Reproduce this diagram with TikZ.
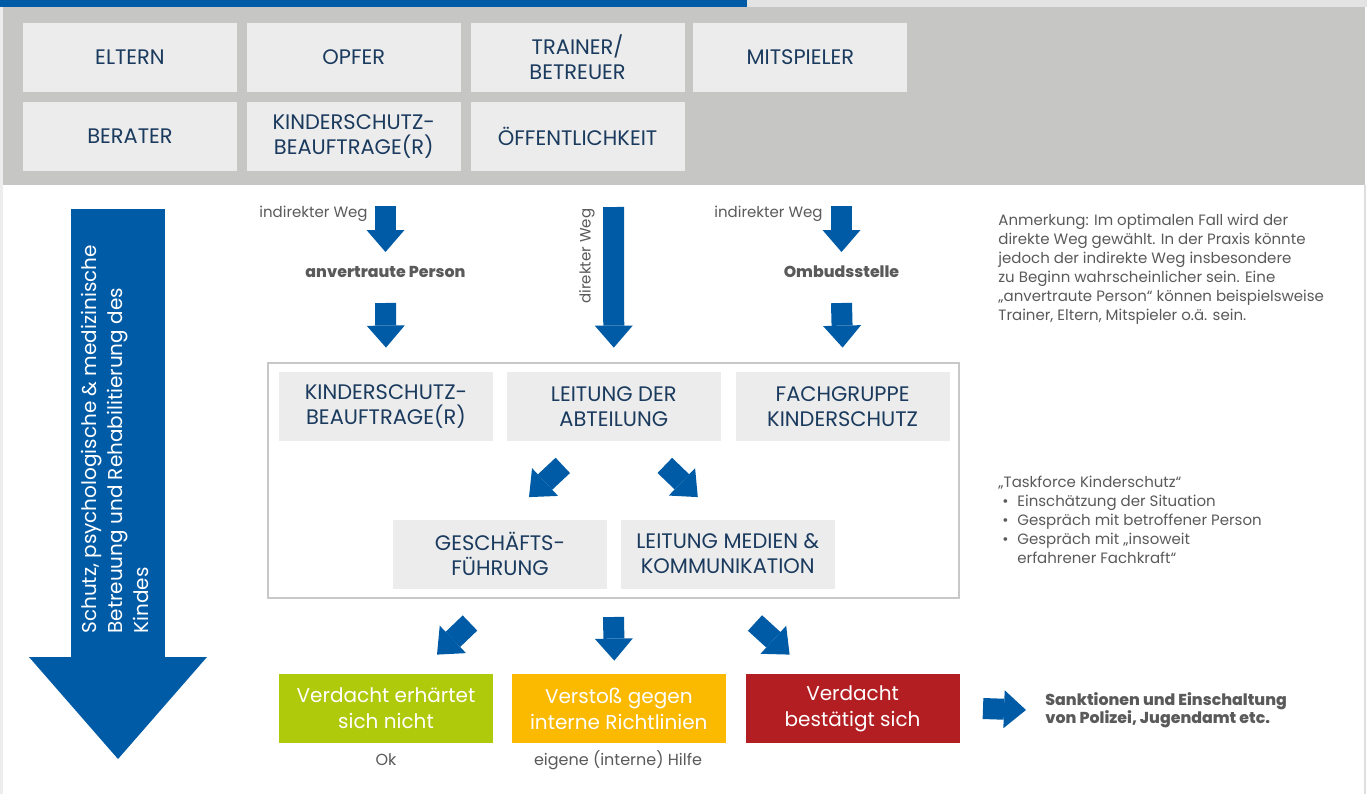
\documentclass[tikz,border=0pt]{standalone}
\usepackage{fontspec}
\setmainfont{Poppins}
\newfontface\schwer{Poppins ExtraBold}
\usetikzlibrary{arrows.meta,positioning,calc}

\definecolor{akblau}{RGB}{0,91,166}
\definecolor{navy}{RGB}{26,58,94}
\definecolor{boxgrau}{RGB}{236,236,236}
\definecolor{bandgrau}{RGB}{198,198,197}
\definecolor{rahmengrau}{RGB}{200,200,200}
\definecolor{textgrau}{RGB}{90,90,90}
\definecolor{gruen}{RGB}{175,202,11}
\definecolor{gelborange}{RGB}{251,185,0}
\definecolor{rot}{RGB}{179,30,34}

\tikzset{
  akteur/.style={fill=boxgrau, text=navy, minimum width=107pt, minimum height=34.5pt,
    align=center, inner sep=0pt, font=\fontsize{10.5}{12.5}\selectfont},
  ergebnis/.style={minimum width=107pt, minimum height=34.5pt, align=center,
    inner sep=0pt, text=white, font=\fontsize{10}{13}\selectfont},
  hinweis/.style={text=textgrau, inner sep=0pt, font=\fontsize{7.5}{9.5}\selectfont},
  fett/.style={hinweis, font=\fontsize{7.9}{9}\schwer},
  blockpfeil/.style={draw=akblau, line width=10.5pt,
    -{Triangle[length=11pt,width=19pt,line width=0pt]}},
}

\begin{document}
\begin{tikzpicture}[x=0.5pt, y=-0.5pt]
\useasboundingbox (0,0) rectangle (1367,794);
% hintergrund
\fill[white] (0,0) rectangle (1367,794);
\fill[akblau] (0,0) rectangle (747,7);
\fill[black!11] (747,0) rectangle (1367,7);
\fill[black!7] (0,7) rectangle (3,794);
\fill[bandgrau] (3,7) rectangle (1365,185);
\fill[black!13] (1364,185) rectangle (1366,794);

% beteiligte
\node[akteur] (eltern) at (130,57.5) {ELTERN};
\node[akteur, right=4.5pt of eltern] (opfer) {OPFER};
\node[akteur, right=4.5pt of opfer] (trainer) {TRAINER/\\BETREUER};
\node[akteur, right=4pt of trainer] (mitspieler) {MITSPIELER};
\node[akteur, below=4.5pt of eltern] (berater) {BERATER};
\node[akteur, below=4.5pt of opfer] (ksbA) {KINDERSCHUTZ-\\BEAUFTRAGE(R)};
\node[akteur, below=4.5pt of trainer] (oeff) {ÖFFENTLICHKEIT};

% schutz
\coordinate (schutzOben) at (118,209);
\coordinate (schutzSpitze) at (118,759);
\draw[draw=akblau, line width=47pt, -{Triangle[length=51pt,width=89pt,line width=0pt]}]
  (schutzOben) -- (schutzSpitze);
\node[text=white, rotate=90, anchor=north west, align=left, inner sep=0pt,
  font=\fontsize{10}{13}\selectfont] (schutz) at (81,634)
  {Schutz, psychologische \& medizinische\\Betreuung und Rehabilitierung des\\Kindes};

% taskforce
\node[draw=rahmengrau, line width=1pt, minimum width=345.5pt, minimum height=117.5pt,
  inner sep=0pt] (taskforce) at (613.5,480.5) {};
\node[akteur] (ksbB) at (386,406.5) {KINDERSCHUTZ-\\BEAUFTRAGE(R)};
\node[akteur, right=6.5pt of ksbB] (leitAbt) {LEITUNG DER\\ABTEILUNG};
\node[akteur, right=7pt of leitAbt] (fachgr) {FACHGRUPPE\\KINDERSCHUTZ};
\node[akteur] (gf) at (500,554) {GESCHÄFTS-\\FÜHRUNG};
\node[akteur, right=6.5pt of gf] (medien) {LEITUNG MEDIEN \&\\KOMMUNIKATION};

% ergebnisse
\node[ergebnis, fill=gruen] (nichtB) at (386,708.5) {Verdacht erhärtet\\sich nicht};
\node[ergebnis, fill=gelborange, right=9pt of nichtB] (verstoss) {Verstoß gegen\\interne Richtlinien};
\node[ergebnis, fill=rot, right=9.5pt of verstoss] (bestaetigt) {Verdacht\\bestätigt sich};

% texte
\node[hinweis, anchor=east] (indL) at (368,214) {indirekter Weg};
\node[fett] (anv) at (385.5,272) {anvertraute Person};
\node[hinweis, rotate=90] (dir) at (587,256) {direkter Weg};
\node[hinweis, anchor=east] (indR) at (823,214) {indirekter Weg};
\node[fett] (ombud) at (841.5,272) {Ombudsstelle};
\node[hinweis, font=\fontsize{8}{10}\selectfont] (ok) at (386,760) {Ok};
\node[hinweis, font=\fontsize{8}{10}\selectfont] (hilfe) at (618,760) {eigene (interne) Hilfe};
\node[fett, anchor=west, align=left] (sankt) at (1045,710)
  {Sanktionen und Einschaltung\\von Polizei, Jugendamt etc.};
\node[hinweis, anchor=north west, align=left] (anm) at (998,214)
  {Anmerkung: Im optimalen Fall wird der\\direkte Weg gewählt. In der Praxis könnte\\
   jedoch der indirekte Weg insbesondere\\zu Beginn wahrscheinlicher sein. Eine\\
   „anvertraute Person“ können beispielsweise\\Trainer, Eltern, Mitspieler o.ä. sein.};
\node[hinweis, anchor=north west, align=left] (tf) at (998,476)
  {„Taskforce Kinderschutz“\\
   \makebox[9.5pt][l]{\hspace{2pt}\textbullet}Einschätzung der Situation\\
   \makebox[9.5pt][l]{\hspace{2pt}\textbullet}Gespräch mit betroffener Person\\
   \makebox[9.5pt][l]{\hspace{2pt}\textbullet}Gespräch mit „insoweit\\
   \hspace*{9.5pt}erfahrener Fachkraft“};

% wege
\coordinate (wegL) at (385.5,206);
\coordinate (wegD) at (613.5,207);
\coordinate (wegR) at (841.5,206);
\draw[blockpfeil] (wegL) -- ($(anv)+(0,-20)$);
\draw[blockpfeil] ($(anv)+(0,31)$) -- ($(ksbB.north)+(0,-24)$);
\draw[blockpfeil] (wegD) -- ($(leitAbt.north)+(0,-24)$);
\draw[blockpfeil] (wegR) -- ($(ombud)+(0,-20)$);
\draw[blockpfeil] ($(ombud)+(0,31)$) -- ($(fachgr.north)+(0,-24)$);
\draw[blockpfeil] ($(leitAbt.south)+(-51,24)$) -- ($(gf.north)+(29,-22)$);
\draw[blockpfeil] ($(leitAbt.south)+(51,24)$) -- ($(medien.north)+(-30,-22)$);
\draw[blockpfeil] ($(taskforce.south)+(-143.5,24)$) -- ($(nichtB.north)+(51,-19)$);
\draw[blockpfeil] ($(taskforce.south)+(0,18)$) -- ($(verstoss.north)+(-4.5,-13)$);
\draw[blockpfeil] ($(taskforce.south)+(141.5,24)$) -- ($(bestaetigt.north)+(-63,-19)$);
\draw[blockpfeil] ($(bestaetigt.east)+(23,0)$) -- ($(sankt.west)+(-19,0)$);
\end{tikzpicture}
\end{document}
